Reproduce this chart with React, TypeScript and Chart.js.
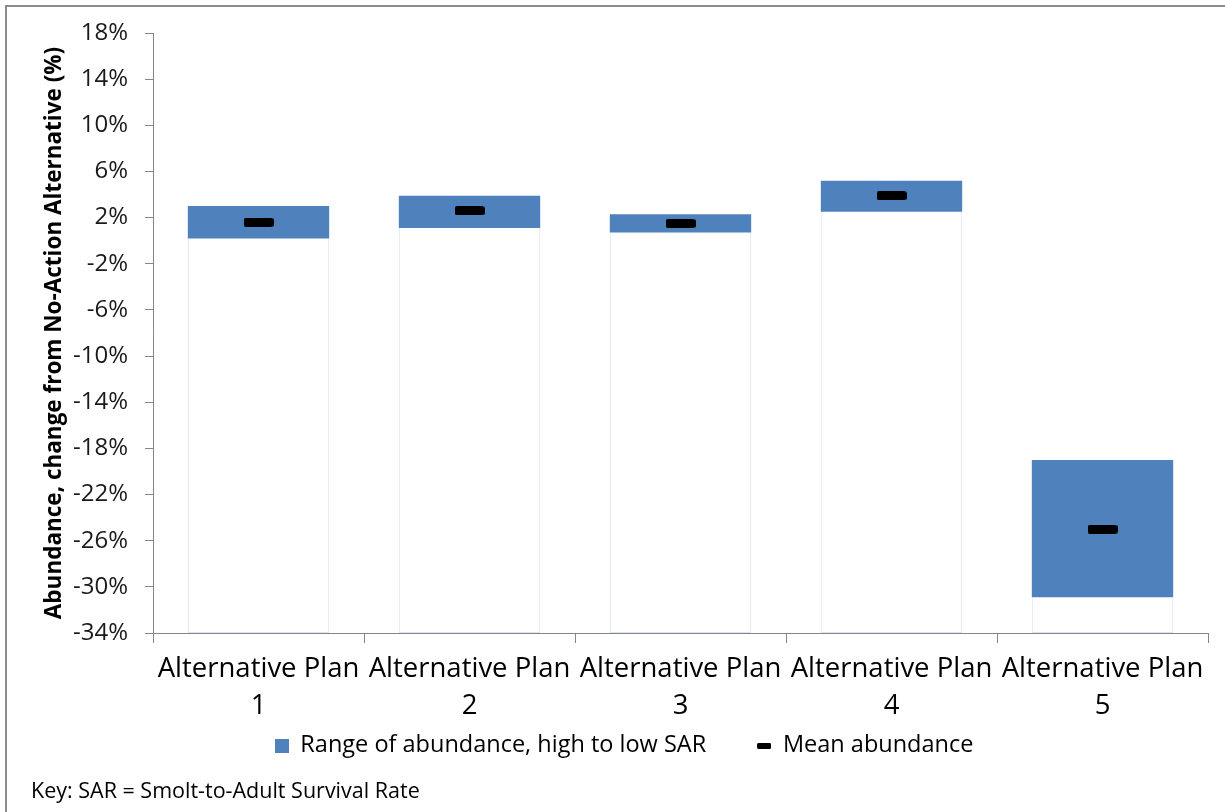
import React, { useEffect, useRef } from "react";
import { Chart, registerables } from "chart.js";

Chart.register(...registerables);

const categories: string[][] = [
  ["Alternative Plan", "1"],
  ["Alternative Plan", "2"],
  ["Alternative Plan", "3"],
  ["Alternative Plan", "4"],
  ["Alternative Plan", "5"],
];
const lowValues = [0.2, 1.1, 0.7, 2.5, -30.9];
const highValues = [3.0, 3.9, 2.3, 5.2, -19.0];
const meanValues = [1.6, 2.6, 1.5, 3.9, -25.0];
const yMin = -34;
const yMax = 18;
const yStep = 4;
const yTitle = "Abundance, change from No-Action Alternative (%)";
const legendLabels = ["Range of abundance, high to low SAR", "Mean abundance"];
const keyText = "Key: SAR = Smolt-to-Adult Survival Rate";

const BLUE = "#4f81bd";
const AXIS = "#868686";
const FONT = "'Open Sans', sans-serif";

const X_HEIGHT = 94;
const LEGEND_PAD = 51;
const LEGEND_FONT = 23.5;

function makeRect(w: number, h: number, color: string, r: number) {
  const c = document.createElement("canvas");
  c.width = w;
  c.height = h;
  const ctx = c.getContext("2d")!;
  ctx.fillStyle = color;
  ctx.beginPath();
  if ((ctx as any).roundRect && r > 0) (ctx as any).roundRect(0, 0, w, h, r);
  else ctx.rect(0, 0, w, h);
  ctx.fill();
  return c;
}

const legendShift = {
  id: "legendShift",
  afterLayout(chart: any) {
    const lg = chart.legend;
    if (!lg) return;
    const dy = -(X_HEIGHT + LEGEND_PAD - 101);
    const dx = 20;
    lg.top += dy;
    lg.bottom += dy;
    lg.left += dx;
    lg.right += dx;
  },
};

export default function App() {
  const ref = useRef<HTMLCanvasElement | null>(null);

  useEffect(() => {
    if (!ref.current) return;
    const boxImg = makeRect(14, 14, BLUE, 0);
    const dashImg = makeRect(14, 6, "#000", 1.5);
    const markerImg = makeRect(30, 9, "#000", 2.5);

    const chart = new Chart(ref.current, {
      type: "bar",
      plugins: [legendShift],
      data: {
        labels: categories,
        datasets: [
          {
            type: "line",
            label: legendLabels[1],
            data: meanValues,
            showLine: false,
            pointStyle: markerImg as any,
            pointRadius: 15,
            pointHoverRadius: 15,
            borderColor: "#000",
            backgroundColor: "#000",
            order: 0,
          } as any,
          {
            label: legendLabels[0],
            data: lowValues.map((lo, i) => [lo, highValues[i]]),
            backgroundColor: BLUE,
            borderWidth: 0,
            grouped: false,
            barPercentage: 0.67,
            categoryPercentage: 1,
            order: 1,
          } as any,
          {
            label: "base",
            data: lowValues.map((lo) => [yMin, lo]),
            backgroundColor: "#ffffff",
            borderColor: "#dbe5f1",
            borderWidth: 1,
            grouped: false,
            barPercentage: 0.67,
            categoryPercentage: 1,
            order: 2,
          } as any,
        ],
      },
      options: {
        responsive: false,
        animation: false,
        layout: { padding: { left: 0, right: 17, top: 33, bottom: 0.5 } },
        plugins: {
          tooltip: { enabled: false },
          legend: {
            position: "bottom",
            align: "center",
            labels: {
              usePointStyle: true,
              boxWidth: 14,
              boxHeight: 14,
              padding: LEGEND_PAD,
              color: "#000",
              font: { family: FONT, size: LEGEND_FONT },
              generateLabels: () => [
                {
                  text: legendLabels[0],
                  pointStyle: boxImg as any,
                  fillStyle: BLUE,
                  strokeStyle: BLUE,
                  lineWidth: 0,
                  hidden: false,
                  datasetIndex: 1,
                },
                {
                  text: legendLabels[1],
                  pointStyle: dashImg as any,
                  fillStyle: "#000",
                  strokeStyle: "#000",
                  lineWidth: 0,
                  hidden: false,
                  datasetIndex: 0,
                },
              ],
            },
          },
        },
        scales: {
          x: {
            type: "category",
            offset: true,
            grid: {
              display: true,
              offset: true,
              drawOnChartArea: false,
              drawTicks: true,
              tickLength: 10,
              color: AXIS,
            },
            border: { color: AXIS, width: 1 },
            ticks: {
              color: "#000",
              font: { family: FONT, size: 27.5, lineHeight: 1.33 },
              maxRotation: 0,
              autoSkip: false,
              padding: 8,
            },
            afterFit: (s: any) => {
              s.height = X_HEIGHT;
            },
          },
          y: {
            min: yMin,
            max: yMax,
            grid: {
              drawOnChartArea: false,
              drawTicks: true,
              tickLength: 8,
              color: AXIS,
            },
            border: { color: AXIS, width: 1 },
            ticks: {
              stepSize: yStep,
              color: "#1a1a1a",
              font: { family: FONT, size: 24 },
              padding: 17,
              callback: (v: any) => `${v}%`,
            },
            title: {
              display: true,
              text: yTitle,
              color: "#000",
              font: { family: FONT, size: 22.5, weight: "bold" },
              padding: { top: 41, bottom: 0 },
            },
            afterFit: (s: any) => {
              s.width = 153;
            },
          },
        },
      } as any,
    });
    return () => chart.destroy();
  }, []);

  return (
    <div
      style={{
        position: "absolute",
        left: 0,
        top: 0,
        width: 1225,
        height: 812,
        background: "#fff",
        overflow: "hidden",
      }}
    >
      <canvas ref={ref} width={1225} height={812} style={{ display: "block" }} />
      <div
        style={{
          position: "absolute",
          left: 5,
          top: 5,
          width: 1225,
          height: 812,
          borderTop: "2px solid #8c8c8c",
          borderLeft: "2px solid #8c8c8c",
          pointerEvents: "none",
        }}
      />
      <div
        style={{
          position: "absolute",
          left: 31,
          top: 775,
          fontFamily: FONT,
          fontSize: 21.5,
          color: "#000",
          whiteSpace: "nowrap",
        }}
      >
        {keyText}
      </div>
    </div>
  );
}
